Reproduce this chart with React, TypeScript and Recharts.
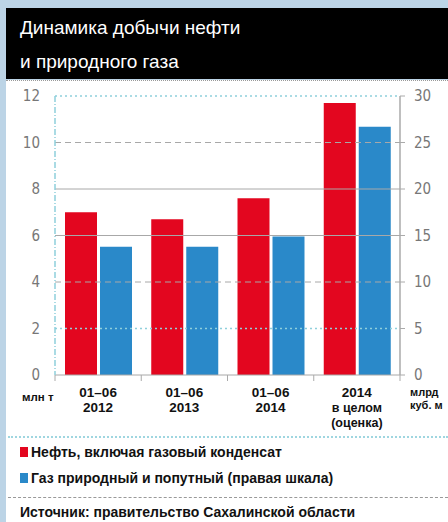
import React from "react";
import { Bar, BarChart, ReferenceLine, XAxis, YAxis } from "recharts";

const PERIODS = ["01–06|2012", "01–06|2013", "01–06|2014", "2014|в целом|(оценка)"];
const OIL = [7.0, 6.7, 7.6, 11.7];
const GAS = [13.8, 13.8, 14.9, 26.7];
const LEFT_TICKS = [0, 2, 4, 6, 8, 10, 12];
const RIGHT_TICKS = [0, 5, 10, 15, 20, 25, 30];

const data = PERIODS.map((p, i) => ({ period: p, oil: OIL[i], gas: GAS[i] }));

const RED = "#e3061f";
const BLUE = "#2a89c9";
const FONT = "'Liberation Sans', Arial, sans-serif";
const NARROW = "'Liberation Sans Narrow', 'DejaVu Sans Condensed', 'Liberation Sans', sans-serif";

const CHART_W = 442;
const CHART_H = 360;
const LEFT_W = 49;
const RIGHT_W = 48;
const HALF_BAND = (CHART_W - LEFT_W - RIGHT_W) / PERIODS.length / 2;

const gridStyle: Record<number, { stroke: string; dash?: string; width: number }> = {
  12: { stroke: "#8fd0dc", dash: "2 3", width: 1.5 },
  10: { stroke: "#a8a8a8", dash: "6 4", width: 1 },
  8: { stroke: "#a8a8a8", width: 1 },
  6: { stroke: "#a8a8a8", width: 1 },
  4: { stroke: "#a8a8a8", dash: "6 4", width: 1 },
  2: { stroke: "#8fd0dc", dash: "2 3", width: 1.5 },
};

function XTick(props: any) {
  const { x, y, payload, index } = props;
  const lines = String(payload.value).split("|");
  return (
    <g>
      <line x1={x - HALF_BAND} x2={x - HALF_BAND} y1={y} y2={y + 6} stroke="#aaa" />
      {index === PERIODS.length - 1 && (
        <line x1={x + HALF_BAND} x2={x + HALF_BAND} y1={y} y2={y + 6} stroke="#aaa" />
      )}
      {lines.map((l, i) => (
        <text
          key={i}
          x={x}
          y={y + 22 + i * 15}
          textAnchor="middle"
          fontFamily={FONT}
          fontWeight="bold"
          fill="#111"
          fontSize={i > 0 && lines.length > 2 ? 12.5 : 13.5}
        >
          {l}
        </text>
      ))}
    </g>
  );
}

export default function App() {
  return (
    <div style={{ position: "absolute", left: 0, top: 0, width: 448, height: 522, background: "#bcd4e6", overflow: "hidden", fontFamily: FONT }}>
      <div style={{ position: "absolute", left: 6, top: 8, width: 442, height: 71, background: "#000" }}>
        <div style={{ position: "absolute", left: 14, top: 9, color: "#fff", fontSize: 19, lineHeight: "22px" }}>Динамика добычи нефти</div>
        <div style={{ position: "absolute", left: 14, top: 43, color: "#fff", fontSize: 19, lineHeight: "22px" }}>и природного газа</div>
      </div>
      <div style={{ position: "absolute", left: 6, top: 80, width: 442, height: 442, background: "#fff", borderTop: "1px dotted #999", boxSizing: "border-box" }}>
        <div style={{ position: "absolute", left: 0, top: -1 }}>
          <BarChart width={CHART_W} height={CHART_H} data={data} margin={{ top: 16, right: 0, left: 0, bottom: 0 }} barSize={32} barGap={3}>
            <XAxis dataKey="period" height={65} interval={0} tick={<XTick />} tickLine={false} tickSize={0} tickMargin={0} axisLine={{ stroke: "#a8a8a8" }} />
            <YAxis
              yAxisId="left"
              orientation="left"
              width={LEFT_W}
              domain={[0, 12]}
              ticks={LEFT_TICKS}
              tickLine={false}
              tickMargin={9}
              axisLine={{ stroke: "#8fd0dc", strokeDasharray: "6 2 1 2", strokeWidth: 1.5 }}
              tick={{ fill: "#777", fontSize: 15, fontFamily: NARROW }}
            />
            <YAxis
              yAxisId="right"
              orientation="right"
              width={RIGHT_W}
              domain={[0, 30]}
              ticks={RIGHT_TICKS}
              tickSize={5}
              tickMargin={9}
              tickLine={{ stroke: "#aaa" }}
              axisLine={{ stroke: "#aaa", strokeWidth: 1.5 }}
              tick={{ fill: "#777", fontSize: 15, fontFamily: NARROW }}
            />
            {LEFT_TICKS.filter((t) => t > 0).map((t) => (
              <ReferenceLine
                key={t}
                yAxisId="left"
                y={t}
                stroke={gridStyle[t].stroke}
                strokeDasharray={gridStyle[t].dash}
                strokeWidth={gridStyle[t].width}
              />
            ))}
            <Bar yAxisId="left" dataKey="oil" fill={RED} isAnimationActive={false} />
            <Bar yAxisId="right" dataKey="gas" fill={BLUE} isAnimationActive={false} />
          </BarChart>
        </div>
      </div>
      <div style={{ position: "absolute", left: 22, top: 391, fontSize: 11.5, fontWeight: "bold", color: "#111" }}>млн т</div>
      <div style={{ position: "absolute", left: 410, top: 386, fontSize: 11, fontWeight: "bold", color: "#111", lineHeight: "13px", whiteSpace: "nowrap" }}>
        млрд<br />куб. м
      </div>
      <div style={{ position: "absolute", left: 8, top: 436, width: 440, borderTop: "2px dotted #9fd6e0" }} />
      <div style={{ position: "absolute", left: 20, top: 447, width: 8, height: 10, background: RED }} />
      <div style={{ position: "absolute", left: 31, top: 443, fontSize: 14, fontWeight: "bold", color: "#111", lineHeight: "18px", whiteSpace: "nowrap" }}>
        Нефть, включая газовый конденсат
      </div>
      <div style={{ position: "absolute", left: 20, top: 473, width: 8, height: 10, background: BLUE }} />
      <div style={{ position: "absolute", left: 31, top: 469, fontSize: 14, fontWeight: "bold", color: "#111", lineHeight: "18px", whiteSpace: "nowrap" }}>
        Газ природный и попутный (правая шкала)
      </div>
      <div style={{ position: "absolute", left: 8, top: 497, width: 440, borderTop: "1px dashed #999" }} />
      <div style={{ position: "absolute", left: 20, top: 503, fontSize: 14, fontWeight: "bold", color: "#111", lineHeight: "18px", whiteSpace: "nowrap" }}>
        Источник: правительство Сахалинской области
      </div>
    </div>
  );
}
